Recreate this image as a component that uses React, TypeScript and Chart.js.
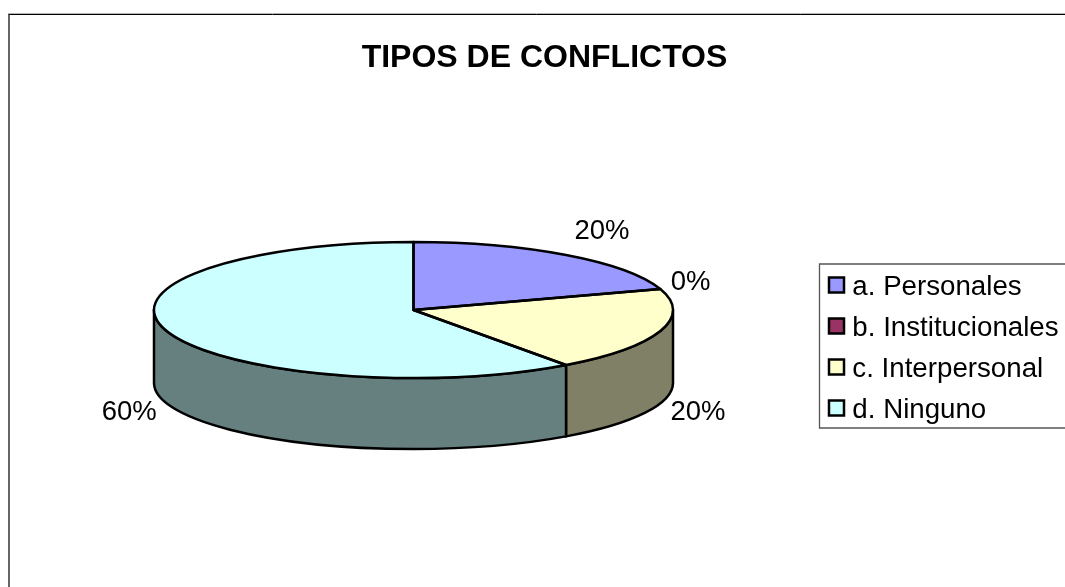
import React, { useEffect, useRef } from "react";
import { Chart, registerables } from "chart.js";

Chart.register(...registerables);

const titleText = "TIPOS DE CONFLICTOS";
const categories = ["a. Personales", "b. Institucionales", "c. Interpersonal", "d. Ninguno"];
const values = [20, 0, 20, 60];
const sliceColors = ["#9999FF", "#993366", "#FFFFCC", "#CCFFFF"];

const FONT = '"Liberation Sans", Arial, sans-serif';

function darken(hex: string): string {
  const n = parseInt(hex.slice(1), 16);
  const c = [(n >> 16) & 255, (n >> 8) & 255, n & 255].map((v) => Math.round(v * 0.5));
  return `rgb(${c[0]},${c[1]},${c[2]})`;
}

const view = { cx: 413.5, cy: 310, rx: 259.5, ry: 68, depth: 73, ryBottom: 66 };
const labelNudges = [
  [36, -23.6],
  [30.4, -6.6],
  [37.7, 8.4],
  [-37.5, 8.4],
];
const legendBox = { left: 815.7, top: 259.85, frameLeft: 819.5, frameTop: 264, frameBottom: 428, swatch: 15, swatchLift: 2 };
const LINE = 2.5;

const pie3d = {
  id: "pie3d",
  beforeDraw(chart: any) {
    const { ctx, width, height } = chart;
    ctx.save();
    ctx.fillStyle = "#fff";
    ctx.fillRect(0, 0, width, height);
    // chart frame
    ctx.strokeStyle = "#b5b5b5";
    ctx.lineWidth = 1;
    ctx.beginPath();
    ctx.moveTo(8, 13.5);
    ctx.lineTo(1065, 13.5);
    ctx.stroke();
    ctx.strokeStyle = "#000";
    ctx.lineWidth = 1;
    ctx.beginPath();
    ctx.moveTo(1065, 14.5);
    ctx.lineTo(8.5, 14.5);
    ctx.stroke();
    ctx.strokeStyle = "#333";
    ctx.lineWidth = 1.5;
    ctx.beginPath();
    ctx.moveTo(9, 14);
    ctx.lineTo(9, 587);
    ctx.stroke();
    // legend frame
    ctx.strokeStyle = "#555";
    ctx.lineWidth = 1.3;
    ctx.beginPath();
    ctx.moveTo(1065, legendBox.frameTop);
    ctx.lineTo(legendBox.frameLeft, legendBox.frameTop);
    ctx.lineTo(legendBox.frameLeft, legendBox.frameBottom);
    ctx.lineTo(1065, legendBox.frameBottom);
    ctx.stroke();
    ctx.restore();
  },
  afterLayout(chart: any) {
    const l = chart.legend;
    l.left = legendBox.left;
    l.right = 1065 + 200;
    l.top = legendBox.top;
    l.bottom = 587;
  },
  beforeDatasetDraw(chart: any) {
    const { ctx } = chart;
    const arcs = chart.getDatasetMeta(0).data;
    const { cx, cy, rx, ry, depth, ryBottom } = view;
    // side wall, only the part of each slice facing the viewer
    arcs.forEach((arc: any, i: number) => {
      const s = arc.startAngle;
      const e = arc.endAngle;
      if (e - s <= 0) return;
      for (const off of [0, Math.PI * 2]) {
        const a0 = Math.max(s, off);
        const a1 = Math.min(e, off + Math.PI);
        if (a1 <= a0) continue;
        ctx.save();
        ctx.beginPath();
        ctx.ellipse(cx, cy, rx, ry, 0, a0, a1);
        ctx.ellipse(cx, cy + depth, rx, ryBottom, 0, a1, a0, true);
        ctx.closePath();
        ctx.fillStyle = darken(sliceColors[i]);
        ctx.fill();
        ctx.strokeStyle = "#000";
        ctx.lineWidth = LINE;
        ctx.lineJoin = "round";
        ctx.stroke();
        ctx.restore();
      }
    });
    // squash the library's round pie into the tilted ellipse
    const first = arcs[0];
    ctx.save();
    ctx.translate(cx, cy);
    ctx.scale(rx / first.outerRadius, ry / first.outerRadius);
    ctx.translate(-first.x, -first.y);
  },
  afterDatasetDraw(chart: any) {
    const { ctx } = chart;
    ctx.restore();
    const arcs = chart.getDatasetMeta(0).data;
    const { cx, cy, rx, ry, depth } = view;
    const total = values.reduce((a, b) => a + b, 0);
    ctx.save();
    ctx.strokeStyle = "#000";
    ctx.lineWidth = LINE;
    ctx.lineJoin = "round";
    arcs.forEach((arc: any) => {
      if (arc.endAngle - arc.startAngle <= 0) return;
      ctx.beginPath();
      ctx.moveTo(cx, cy);
      ctx.ellipse(cx, cy, rx, ry, 0, arc.startAngle, arc.endAngle);
      ctx.closePath();
      ctx.stroke();
    });
    // percentage labels
    ctx.fillStyle = "#000";
    ctx.font = `27.5px ${FONT}`;
    ctx.textAlign = "center";
    ctx.textBaseline = "middle";
    arcs.forEach((arc: any, i: number) => {
      const mid = (arc.startAngle + arc.endAngle) / 2;
      const front = Math.sin(mid) > 0;
      const x = cx + rx * Math.cos(mid) + labelNudges[i][0];
      const y = cy + ry * Math.sin(mid) + (front ? depth : 0) + labelNudges[i][1];
      ctx.fillText(`${Math.round((values[i] / total) * 100)}%`, x, y);
    });
    ctx.restore();
  },
  afterDraw(chart: any) {
    // legend swatches: square, with a black outline
    const { ctx } = chart;
    const l = chart.legend;
    const labels = l.options.labels;
    const rowH = labels.font.size + labels.padding;
    ctx.save();
    ctx.strokeStyle = "#000";
    ctx.lineWidth = 2.5;
    l.legendItems.forEach((item: any, i: number) => {
      const x = l.left + labels.padding;
      const yc = l.top + labels.padding + labels.font.size / 2 + i * rowH - legendBox.swatchLift;
      const s = legendBox.swatch;
      ctx.fillStyle = item.fillStyle;
      ctx.fillRect(x, yc - s / 2, s, s);
      ctx.strokeRect(x, yc - s / 2, s, s);
    });
    ctx.restore();
  },
};

export default function App() {
  const ref = useRef<HTMLCanvasElement | null>(null);
  useEffect(() => {
    const chart = new Chart(ref.current as HTMLCanvasElement, {
      type: "pie",
      data: {
        labels: categories,
        datasets: [
          {
            data: values,
            backgroundColor: sliceColors,
            borderWidth: 0,
            radius: 259.5,
            clip: false,
          } as any,
        ],
      },
      options: {
        animation: false,
        responsive: false,
        events: [],
        layout: { padding: { left: 24, top: 39 } },
        plugins: {
          tooltip: { enabled: false },
          title: {
            display: true,
            text: titleText,
            color: "#000",
            font: { family: FONT, size: 32, weight: "bold" },
            padding: { top: 0, bottom: 0 },
          },
          legend: {
            display: true,
            position: "right",
            align: "start",
            labels: {
              color: "#000",
              font: { family: FONT, size: 27.7 },
              boxWidth: 9.5,
              boxHeight: 10,
              padding: 13.3,
            },
          },
        },
      },
      plugins: [pie3d],
    } as any);
    return () => chart.destroy();
  }, []);
  return (
    <canvas
      ref={ref}
      width={1065}
      height={587}
      style={{ position: "absolute", left: 0, top: 0, display: "block" }}
    />
  );
}
